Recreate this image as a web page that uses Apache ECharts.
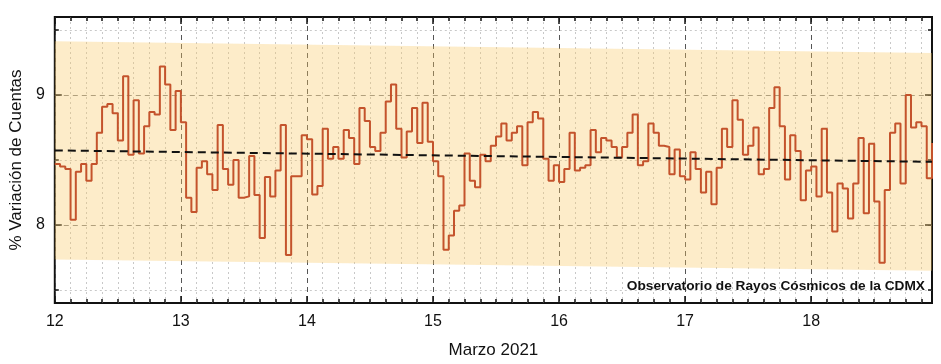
<!DOCTYPE html>
<html>
<head>
<meta charset="utf-8">
<script src="https://cdn.jsdelivr.net/npm/echarts@6/dist/echarts.min.js"></script>
<style>
html,body{margin:0;padding:0;background:#fff;}
#chart{width:941px;height:364px;}
</style>
</head>
<body>
<div id="chart"></div>
<script>
// ---- data (hourly values, % variación de cuentas) ----
const startDay = 12;          // 12 de marzo 2021, 00:00
const hoursPerDay = 24;
const day12 = [8.47, 8.45, 8.43, 8.04, 8.41, 8.47, 8.34, 8.47, 8.71, 8.91, 8.93, 8.86, 8.65, 9.145, 8.54, 8.96, 8.55, 8.76, 8.87, 8.85, 9.22, 9.08, 8.73, 9.03];
const day13 = [8.79, 8.21, 8.10, 8.44, 8.49, 8.39, 8.27, 8.77, 8.43, 8.31, 8.50, 8.21, 8.22, 8.53, 8.23, 7.90, 8.37, 8.22, 8.42, 8.77, 7.77, 8.375, 8.375, 8.69];
const day14 = [8.66, 8.235, 8.30, 8.74, 8.51, 8.60, 8.51, 8.73, 8.67, 8.47, 8.90, 8.80, 8.60, 8.57, 8.71, 8.95, 9.08, 8.74, 8.52, 8.72, 8.90, 8.63, 8.94, 8.64];
const day15 = [8.49, 8.375, 7.81, 7.92, 8.11, 8.15, 8.55, 8.34, 8.29, 8.54, 8.49, 8.61, 8.68, 8.78, 8.65, 8.71, 8.76, 8.46, 8.79, 8.87, 8.82, 8.51, 8.34, 8.46];
const day16 = [8.33, 8.43, 8.71, 8.42, 8.44, 8.46, 8.73, 8.56, 8.67, 8.65, 8.60, 8.52, 8.60, 8.71, 8.85, 8.46, 8.49, 8.78, 8.71, 8.61, 8.60, 8.39, 8.58, 8.375];
const day17 = [8.35, 8.56, 8.43, 8.25, 8.41, 8.16, 8.44, 8.74, 8.60, 8.96, 8.81, 8.54, 8.61, 8.75, 8.39, 8.43, 8.90, 9.06, 8.76, 8.35, 8.69, 8.57, 8.19, 8.42];
const day18 = [8.45, 8.22, 8.74, 8.25, 7.95, 8.32, 8.28, 8.05, 8.32, 8.67, 8.09, 8.625, 8.18, 7.71, 8.27, 8.71, 8.78, 8.32, 9.00, 8.75, 8.79, 8.76, 8.36, 8.63];

// trend line and band (start / end of the period)
const trendX = [12, 18 + 23 / 24];
const trendY = [8.574, 8.486];
const bandLower = [7.735, 7.648];
const bandUpper = [9.413, 9.324];

// axes
const xMin = 12, xMax = 18 + 23 / 24;
const yMin = 7.4, yMax = 9.6;
const dayTicks = [12, 13, 14, 15, 16, 17, 18];
const yMajorTicks = [8, 9];
const yMinorTicks = [7.5, 8.5, 9.5];

// ---- build ----
const values = [].concat(day12, day13, day14, day15, day16, day17, day18);
const series1 = values.map((v, i) => [startDay + i / hoursPerDay, v]);
const xMinorTicks = [];
dayTicks.forEach(d => { for (let k = 1; k < 8; k++) { const t = d + k / 8; if (t < xMax) xMinorTicks.push(t); } });

const FONT = '"Liberation Sans", Arial, sans-serif';

function xAx(pos, custom, len, opts) {
  return Object.assign({
    type: 'value', position: pos, min: xMin, max: xMax, offset: 0,
    axisLine: { show: false, onZero: false },
    axisTick: { show: true, inside: true, length: len, customValues: custom, lineStyle: { color: '#111', width: 1.5 } },
    axisLabel: { show: false },
    splitLine: { show: false }
  }, opts || {});
}
function yAx(pos, custom, len, opts) {
  return Object.assign({
    type: 'value', position: pos, min: yMin, max: yMax, offset: 0,
    axisLine: { show: false, onZero: false },
    axisTick: { show: true, inside: true, length: len, customValues: custom, lineStyle: { color: '#111', width: 1.5 } },
    axisLabel: { show: false },
    splitLine: { show: false }
  }, opts || {});
}

const chart = echarts.init(document.getElementById('chart'), null, { renderer: 'canvas' });
chart.setOption({
  animation: false,
  backgroundColor: '#fff',
  textStyle: { fontFamily: FONT },
  title: {
    text: 'Observatorio de Rayos Cósmicos de la CDMX',
    right: 16, top: 279, padding: 0,
    textStyle: { fontFamily: FONT, fontSize: 13.7, fontWeight: 'bold', color: '#111' }
  },
  grid: { left: 52, right: 9, top: 17, bottom: 60, show: true, borderColor: '#111', borderWidth: 2, backgroundColor: 'transparent' },
  xAxis: [
    xAx('bottom', dayTicks, 7, {
      name: 'Marzo 2021', nameLocation: 'middle', nameGap: 39,
      nameTextStyle: { fontFamily: FONT, fontSize: 17, color: '#111' },
      axisLabel: { show: true, customValues: dayTicks, margin: 11, fontFamily: FONT, fontSize: 16, color: '#111', formatter: v => String(Math.round(v)) },
      splitLine: { show: true, lineStyle: { color: '#555', width: 1, type: [5, 4] } }
    }),
    xAx('bottom', xMinorTicks, 4, {
      splitLine: { show: true, lineStyle: { color: '#c8c8c8', width: 1, type: [2, 3] } }
    }),
    xAx('top', dayTicks, 7),
    xAx('top', xMinorTicks, 4)
  ],
  yAxis: [
    yAx('left', yMajorTicks, 7, {
      name: '% Variación de Cuentas', nameLocation: 'middle', nameGap: 29,
      nameTextStyle: { fontFamily: FONT, fontSize: 17, color: '#111' },
      axisLabel: { show: true, customValues: yMajorTicks, margin: 10, fontFamily: FONT, fontSize: 16, color: '#111', formatter: v => String(Math.round(v)) },
      splitLine: { show: true, lineStyle: { color: '#8a8a8a', width: 1, type: [5, 4] } }
    }),
    yAx('left', yMinorTicks, 4, {
      splitLine: { show: true, lineStyle: { color: '#c8c8c8', width: 1, type: [2, 3] } }
    }),
    yAx('right', yMajorTicks, 7),
    yAx('right', yMinorTicks, 4)
  ],
  series: [
    {
      type: 'custom', xAxisIndex: 0, yAxisIndex: 0, silent: true, z: 1,
      data: trendX.map((x, i) => [x, bandLower[i], bandUpper[i]]),
      encode: { x: 0, y: [1, 2] },
      renderItem: function (params, api) {
        if (params.dataIndex !== 0) return null;
        const pts = [];
        for (let i = 0; i < trendX.length; i++) pts.push(api.coord([trendX[i], bandUpper[i]]));
        for (let i = trendX.length - 1; i >= 0; i--) pts.push(api.coord([trendX[i], bandLower[i]]));
        return { type: 'polygon', shape: { points: pts }, style: { fill: 'rgba(250,200,100,0.35)' } };
      }
    },
    {
      type: 'line', xAxisIndex: 0, yAxisIndex: 0, step: 'end', data: series1,
      symbol: 'none', z: 3,
      lineStyle: { color: '#C4532C', width: 2 }
    },
    {
      type: 'line', xAxisIndex: 0, yAxisIndex: 0,
      data: trendX.map((x, i) => [x, trendY[i]]),
      symbol: 'none', z: 4,
      lineStyle: { color: '#111', width: 2, type: [8, 5] }
    }
  ]
});
</script>
</body>
</html>
